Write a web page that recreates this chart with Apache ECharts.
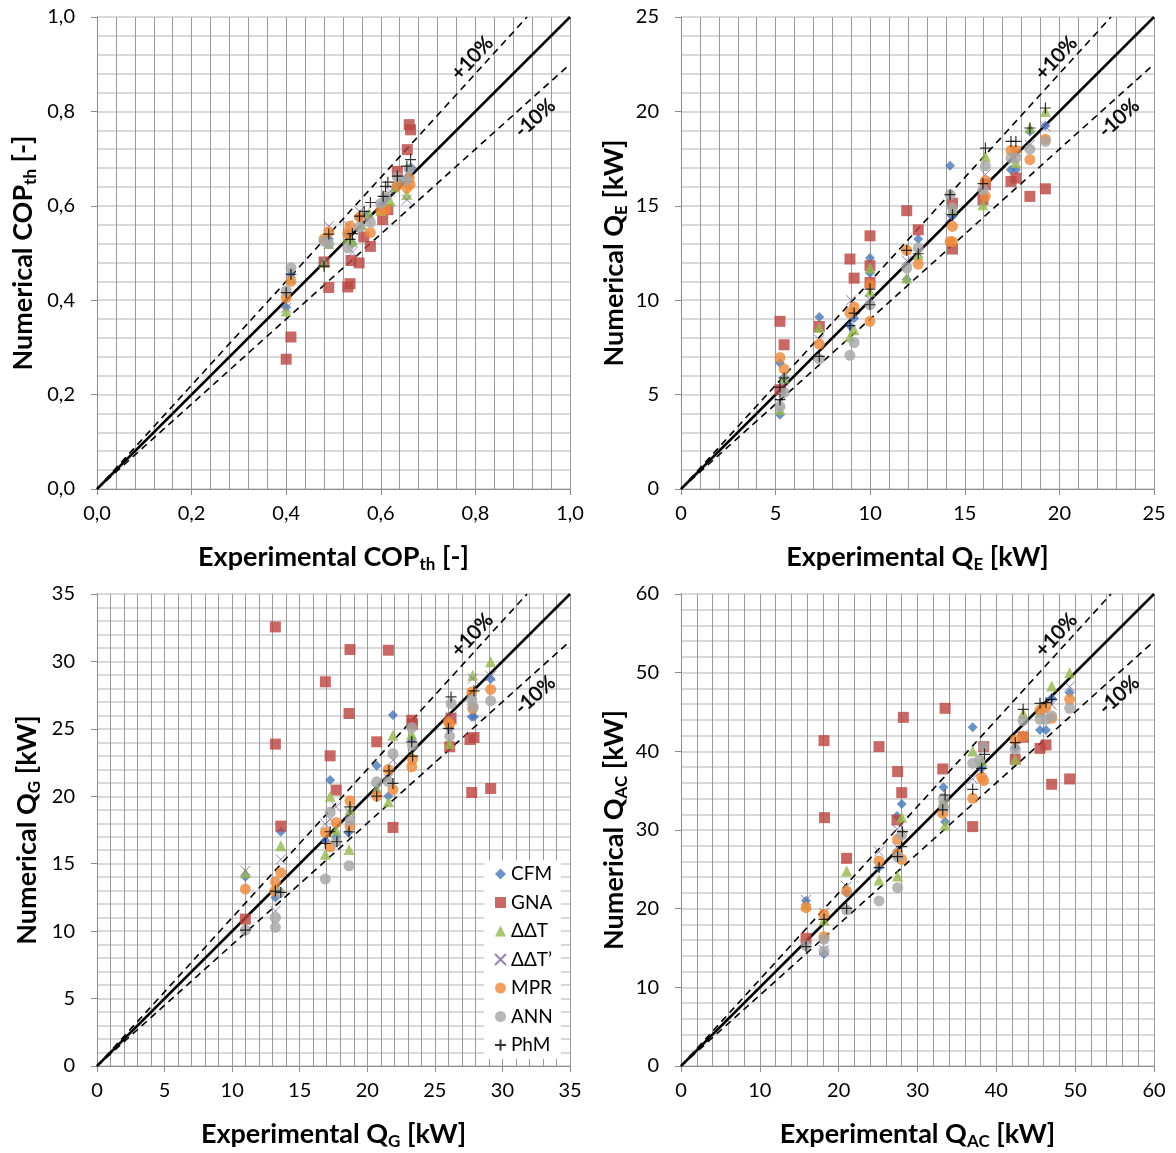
<!DOCTYPE html>
<html><head><meta charset="utf-8">
<script src="https://cdn.jsdelivr.net/npm/echarts@6/dist/echarts.min.js"></script>
<style>html,body{margin:0;padding:0;background:#fff}#c{width:1176px;height:1153px}</style>
</head><body><div id="c"></div>
<script>
// ---------- DATA ----------
const seriesNames = ['CFM', 'GNA', 'ΔΔT', 'ΔΔT’', 'MPR', 'ANN', 'PhM'];

// Panel 1: COP_th  [experimental, numerical]
const cop_CFM = [[0.40,0.385],[0.41,0.455],[0.48,0.48],[0.49,0.53],[0.53,0.54],[0.54,0.52],[0.555,0.575],[0.57,0.58],[0.60,0.60],[0.61,0.615],[0.63,0.64],[0.64,0.65],[0.655,0.66],[0.665,0.68]];
const cop_GNA = [[0.40,0.275],[0.41,0.322],[0.48,0.481],[0.49,0.427],[0.53,0.428],[0.535,0.435],[0.537,0.484],[0.554,0.479],[0.564,0.534],[0.578,0.514],[0.604,0.571],[0.615,0.592],[0.635,0.673],[0.656,0.719],[0.66,0.772],[0.663,0.761]];
const cop_DT = [[0.40,0.377],[0.41,0.446],[0.48,0.48],[0.49,0.52],[0.53,0.53],[0.54,0.525],[0.56,0.56],[0.575,0.584],[0.60,0.59],[0.62,0.61],[0.63,0.64],[0.655,0.624],[0.66,0.66]];
const cop_DT2 = [[0.40,0.384],[0.41,0.458],[0.48,0.48],[0.49,0.557],[0.53,0.559],[0.54,0.502],[0.555,0.588],[0.57,0.57],[0.60,0.60],[0.62,0.63],[0.64,0.65],[0.655,0.613],[0.66,0.67]];
const cop_MPR = [[0.40,0.405],[0.41,0.44],[0.48,0.53],[0.49,0.545],[0.53,0.541],[0.535,0.557],[0.555,0.576],[0.578,0.543],[0.60,0.59],[0.61,0.592],[0.635,0.643],[0.655,0.638],[0.66,0.659],[0.662,0.645]];
const cop_ANN = [[0.40,0.42],[0.41,0.469],[0.48,0.525],[0.49,0.52],[0.53,0.511],[0.555,0.555],[0.578,0.565],[0.60,0.605],[0.61,0.62],[0.635,0.661],[0.655,0.655],[0.66,0.678]];
const cop_PhM = [[0.40,0.416],[0.41,0.455],[0.48,0.472],[0.49,0.54],[0.535,0.529],[0.54,0.541],[0.555,0.578],[0.565,0.588],[0.578,0.607],[0.605,0.62],[0.61,0.641],[0.615,0.65],[0.635,0.663],[0.655,0.684],[0.663,0.698]];

// Panel 2: Q_E [kW]
const qe_CFM = [[5.23,3.93],[5.23,6.67],[5.45,5.9],[7.31,9.11],[8.93,8.65],[9.15,9.05],[9.99,12.23],[9.99,11.44],[11.93,11.1],[12.54,13.24],[14.22,17.12],[14.35,14.44],[16.09,16.2],[17.44,16.91],[17.7,16.91],[18.44,18.94],[19.26,19.24]];
const qe_GNA = [[5.23,8.88],[5.45,7.64],[5.23,5.26],[7.31,8.61],[8.93,12.18],[9.15,11.17],[9.99,13.41],[9.99,11.83],[9.99,10.94],[11.93,14.74],[12.54,13.73],[14.35,15.14],[14.35,12.71],[16.09,16.12],[15.96,15.32],[17.44,16.29],[17.7,16.47],[18.44,15.5],[19.26,15.9]];
const qe_DT = [[5.45,5.88],[5.23,4.2],[7.31,8.56],[9.15,8.44],[8.93,8.08],[9.99,11.7],[9.99,10.47],[11.93,11.17],[12.54,12.41],[14.35,14.8],[16.09,17.62],[15.96,15.06],[17.7,17.3],[18.44,19.12],[19.26,20.0]];
const qe_DT2 = [[5.23,4.55],[5.45,5.7],[7.31,7.9],[9.0,10.0],[9.99,10.02],[11.93,12.1],[12.54,12.5],[14.22,14.35],[16.09,16.65],[17.7,17.9],[18.44,18.23],[19.26,19.2]];
const qe_MPR = [[5.23,6.97],[5.45,6.35],[7.31,7.68],[9.15,9.64],[8.93,9.32],[9.99,10.82],[9.99,8.88],[11.93,12.64],[12.54,11.91],[14.35,13.91],[14.22,13.11],[14.35,13.1],[16.09,16.33],[16.09,15.5],[17.44,17.93],[17.7,17.93],[18.44,17.44],[19.26,18.53]];
const qe_ANN = [[5.45,5.12],[5.23,4.37],[7.31,6.88],[9.15,7.76],[8.93,7.08],[9.99,9.76],[11.93,11.7],[12.54,12.76],[14.22,15.59],[14.35,14.88],[16.09,17.12],[15.96,15.85],[17.44,17.53],[17.7,17.53],[18.44,18.0],[19.26,18.41]];
const qe_PhM = [[5.23,5.40],[5.45,5.88],[5.23,4.73],[7.31,7.02],[9.15,9.32],[8.93,8.65],[9.99,10.59],[9.99,9.76],[11.93,12.64],[12.54,12.46],[14.22,15.59],[14.35,14.53],[16.09,18.06],[15.96,16.17],[17.44,18.41],[17.7,18.41],[18.44,19.12],[19.26,20.18]];

// Panel 3: Q_G [kW]
const qg_CFM = [[10.98,14.03],[13.6,17.37],[13.2,12.5],[17.25,21.2],[16.9,16.7],[17.7,17.0],[18.6,17.32],[20.7,22.26],[21.9,26.02],[21.56,20.01],[23.29,24.21],[26.1,25.0],[27.73,25.89],[27.9,25.89],[29.13,28.7]];
const qg_GNA = [[10.98,10.89],[13.2,32.56],[13.2,23.87],[13.6,17.79],[16.9,28.49],[17.25,23.0],[17.7,20.46],[18.72,30.88],[18.65,26.14],[20.7,24.04],[21.56,30.83],[21.9,17.69],[23.29,25.64],[23.35,25.35],[26.2,25.77],[26.1,23.67],[27.6,24.21],[27.9,24.36],[27.73,20.28],[29.13,20.58]];
const qg_DT = [[10.98,14.33],[13.6,16.33],[13.2,13.2],[17.25,20.01],[16.9,15.71],[17.7,17.5],[18.65,16.06],[18.72,19.0],[20.7,20.6],[21.9,24.53],[21.56,19.59],[23.29,24.6],[26.1,23.92],[27.8,28.98],[29.13,29.97]];
const qg_DT2 = [[10.98,14.48],[13.6,15.32],[13.2,11.49],[17.7,19.22],[16.9,17.94],[17.25,18.3],[18.72,18.78],[20.7,20.5],[21.9,22.68],[21.56,21.3],[23.35,23.17],[26.2,25.89],[27.8,28.73],[27.73,27.13],[29.13,28.9]];
const qg_MPR = [[10.98,13.12],[13.6,14.33],[13.2,13.66],[13.15,12.97],[17.7,18.06],[16.9,17.32],[17.25,16.25],[18.72,19.67],[18.72,17.79],[20.7,20.01],[21.56,21.99],[21.9,20.5],[23.35,22.73],[23.29,22.19],[26.0,25.52],[26.1,25.35],[27.73,27.74],[27.8,26.51],[29.13,27.92]];
const qg_ANN = [[10.98,10.08],[13.2,10.99],[13.2,10.28],[13.5,12.87],[17.25,18.83],[17.7,16.63],[16.9,13.86],[18.72,18.18],[18.65,14.85],[20.7,21.08],[21.9,23.17],[21.56,21.08],[23.29,25.1],[23.35,23.79],[26.2,26.88],[26.1,24.46],[27.73,27.18],[27.85,26.63],[29.13,27.08]];
const qg_PhM = [[10.98,10.08],[13.2,12.97],[13.6,12.87],[17.25,17.37],[16.9,16.5],[17.75,16.63],[18.72,19.22],[18.65,17.37],[20.7,20.01],[21.6,21.89],[21.9,20.95],[23.29,24.04],[23.35,22.98],[26.2,27.37],[26.0,25.03],[27.9,27.82]];

// Panel 4: Q_AC [kW]
const qac_CFM = [[15.86,21.02],[18.14,14.24],[21.01,22.0],[25.12,25.26],[28.0,33.31],[27.4,31.78],[33.28,35.43],[33.5,31.06],[37.0,43.05],[38.14,37.84],[42.4,40.5],[43.4,42.0],[45.54,42.71],[46.3,42.71],[47.02,46.74],[49.3,47.46]];
const qac_GNA = [[15.86,16.23],[18.14,41.36],[18.2,31.57],[21.01,26.4],[25.12,40.6],[27.48,37.42],[28.0,34.75],[27.4,31.27],[28.2,44.32],[33.5,45.47],[33.2,37.76],[37.0,30.43],[38.4,40.6],[42.4,38.99],[43.4,41.78],[45.54,40.38],[46.3,40.81],[47.02,35.81],[49.3,36.49]];
const qac_DT = [[15.86,20.5],[18.14,18.56],[21.01,24.79],[25.12,23.64],[28.0,31.61],[27.48,24.15],[33.5,30.64],[33.28,33.5],[37.0,40.05],[38.14,38.8],[42.4,38.99],[43.4,44.83],[45.54,45.0],[47.02,48.31],[49.3,50.0]];
const qac_DT2 = [[15.86,21.1],[18.14,19.49],[18.14,14.75],[21.01,22.8],[25.12,27.25],[27.4,30.09],[27.4,27.88],[33.28,33.0],[37.0,36.5],[38.14,37.54],[42.4,40.8],[43.4,42.08],[46.3,45.0],[47.02,45.9],[49.3,48.22]];
const qac_MPR = [[15.86,20.13],[18.14,19.28],[18.14,16.44],[21.01,22.25],[25.12,26.06],[27.48,28.82],[27.48,26.95],[28.0,26.27],[33.2,32.12],[37.0,34.03],[38.14,36.7],[38.4,36.27],[42.4,41.44],[43.4,41.95],[45.54,45.26],[46.3,45.6],[47.02,44.2],[49.3,46.61]];
const qac_ANN = [[15.86,15.3],[18.14,16.1],[18.14,14.62],[21.01,19.83],[25.12,20.98],[28.0,29.37],[27.48,26.61],[27.48,22.67],[33.3,34.03],[33.3,32.97],[37.0,38.48],[37.9,38.9],[38.4,40.6],[42.4,40.26],[43.4,43.9],[45.54,44.07],[46.3,44.07],[47.02,44.5],[49.3,45.47]];
const qac_PhM = [[15.86,15.17],[18.14,18.65],[21.01,20.04],[25.12,25.22],[28.1,29.79],[28.0,27.88],[27.48,26.61],[33.5,34.45],[33.2,32.55],[37.0,35.17],[38.14,37.84],[38.5,39.62],[42.4,41.1],[43.4,45.34],[45.54,46.1],[46.3,46.19],[47.02,46.61]];

// axis ranges: [max, major interval]
const axisMax = [1.0, 25, 35, 60];
const axisStep = [0.2, 5, 5, 10];
const bandLabels = ['+10%', '-10%'];
const bandFactors = [1.1, 0.9];

// ---------- STYLE / LAYOUT ----------
const FONT = 'Lato, "Open Sans", sans-serif';
const panels = [
  {sets:[cop_CFM,cop_GNA,cop_DT,cop_DT2,cop_MPR,cop_ANN,cop_PhM], sub:'th', unit:'[-]', q:'COP', left:97, top:17, yGap:58, dec:1},
  {sets:[qe_CFM,qe_GNA,qe_DT,qe_DT2,qe_MPR,qe_ANN,qe_PhM], sub:'E', unit:'[kW]', q:'Q', left:681, top:17, yGap:51, dec:0},
  {sets:[qg_CFM,qg_GNA,qg_DT,qg_DT2,qg_MPR,qg_ANN,qg_PhM], sub:'G', unit:'[kW]', q:'Q', left:97, top:594, yGap:54, dec:0},
  {sets:[qac_CFM,qac_GNA,qac_DT,qac_DT2,qac_MPR,qac_ANN,qac_PhM], sub:'AC', unit:'[kW]', q:'Q', left:681, top:594, yGap:51, dec:0}
];
const PLUS = 'path://M5,0L5,10M0,5L10,5';
const CROSS = 'path://M0,0L10,10M10,0L0,10';
const markerStyles = [
  {symbol:'diamond', size:10, itemStyle:{color:'#4777B8'}},
  {symbol:'rect', size:11, itemStyle:{color:'#BA4340'}},
  {symbol:'triangle', size:11, itemStyle:{color:'#96B84F'}},
  {symbol:CROSS, size:10, itemStyle:{color:'rgba(0,0,0,0)', borderColor:'#7D60A0', borderWidth:1}},
  {symbol:'circle', size:11, itemStyle:{color:'#EC8A3A'}},
  {symbol:'circle', size:11, itemStyle:{color:'#A5A5A5'}},
  {symbol:PLUS, size:11, itemStyle:{color:'rgba(0,0,0,0)', borderColor:'#000', borderWidth:1.2}}
];

const grids = [], xAxes = [], yAxes = [], series = [];
const nameStyle = {fontFamily:FONT, fontWeight:'bold', fontSize:27, color:'#000', lineHeight:32,
  rich:{
    b:{fontFamily:FONT, fontWeight:'bold', fontSize:27, lineHeight:32, color:'#000'},
    s:{fontFamily:FONT, fontWeight:'bold', fontSize:17, lineHeight:17, verticalAlign:'bottom', color:'#000'}
  }};

panels.forEach((p, i) => {
  grids.push({left:p.left, top:p.top, width:473, height:472, containLabel:false});
  const fmt = v => p.dec ? v.toFixed(1).replace('.', ',') : String(Math.round(v));
  const common = (isX) => ({
    type:'value', gridIndex:i, min:0, max:axisMax[i], interval:axisStep[i],
    axisLine:{show:true, lineStyle:{color:'#8c8c8c', width:1}},
    axisTick:{show:true, length:6, inside:false, lineStyle:{color:'#8c8c8c'}},
    axisLabel:{fontFamily:FONT, fontSize:20, color:'#000', formatter:fmt, margin: isX ? 15 : 22},
    splitLine:{show:true, lineStyle:{color: isX ? '#9a9a9a' : '#cdcdcd', width: isX ? 1 : 1.5}},
    minorTick:{show:false, splitNumber:5},
    minorSplitLine:{show:true, lineStyle:{color: isX ? '#9a9a9a' : '#cdcdcd', width: isX ? 1 : 1.5}},
    nameLocation:'middle', nameTextStyle:nameStyle
  });
  xAxes.push(Object.assign(common(true), {name:'{b|Experimental ' + p.q + '}{s|' + p.sub + '}{b| ' + p.unit + '}', nameGap:52}));
  yAxes.push(Object.assign(common(false), {name:'{b|Numerical ' + p.q + '}{s|' + p.sub + '}{b| ' + p.unit + '}', nameGap:p.yGap}));

  const M = axisMax[i];
  // reference lines
  series.push({type:'line', xAxisIndex:i, yAxisIndex:i, data:[[0,0],[M,M]], symbol:'none', silent:true,
    lineStyle:{color:'#000', width:2.5}, z:3});
  series.push({type:'line', xAxisIndex:i, yAxisIndex:i, data:[[0,0],[M/bandFactors[0],M]], symbol:'none', silent:true,
    lineStyle:{color:'#000', width:1.6, type:[7,5]}, z:3});
  series.push({type:'line', xAxisIndex:i, yAxisIndex:i, data:[[0,0],[M,M*bandFactors[1]]], symbol:'none', silent:true,
    lineStyle:{color:'#000', width:1.6, type:[7,5]}, z:3});
  // band labels
  const lbl = (txt, rot) => ({show:true, position:'inside', formatter:txt, rotate:rot, fontFamily:FONT,
    fontSize:20, color:'#000', textBorderColor:'#000', textBorderWidth:0.5, opacity:1});
  series.push({type:'scatter', xAxisIndex:i, yAxisIndex:i, symbolSize:1, silent:true, itemStyle:{color:'rgba(0,0,0,0)'},
    data:[[0.793*M, 0.913*M]], z:4, label:lbl(bandLabels[0], 47)});
  series.push({type:'scatter', xAxisIndex:i, yAxisIndex:i, symbolSize:1, silent:true, itemStyle:{color:'rgba(0,0,0,0)'},
    data:[[0.926*M, 0.786*M]], z:4, label:lbl(bandLabels[1], 42)});
  // data series
  p.sets.forEach((d, k) => {
    const ms = markerStyles[k];
    series.push({type:'scatter', name:seriesNames[k], xAxisIndex:i, yAxisIndex:i, data:d,
      symbol:ms.symbol, symbolSize:ms.size, itemStyle:ms.itemStyle, z:5 + k});
  });
});

const chart = echarts.init(document.getElementById('c'), null, {renderer:'canvas'});
chart.setOption({
  animation:false,
  backgroundColor:'#fff',
  grid:grids, xAxis:xAxes, yAxis:yAxes, series:series,
  legend:{data:seriesNames, orient:'vertical', left:484, top:860, backgroundColor:'#fff',
    padding:[4,8,4,10], itemGap:8.5, itemWidth:11, itemHeight:11, selectedMode:false,
    textStyle:{fontFamily:FONT, fontSize:19, color:'#000', lineHeight:20}}
});
</script>
</body></html>
